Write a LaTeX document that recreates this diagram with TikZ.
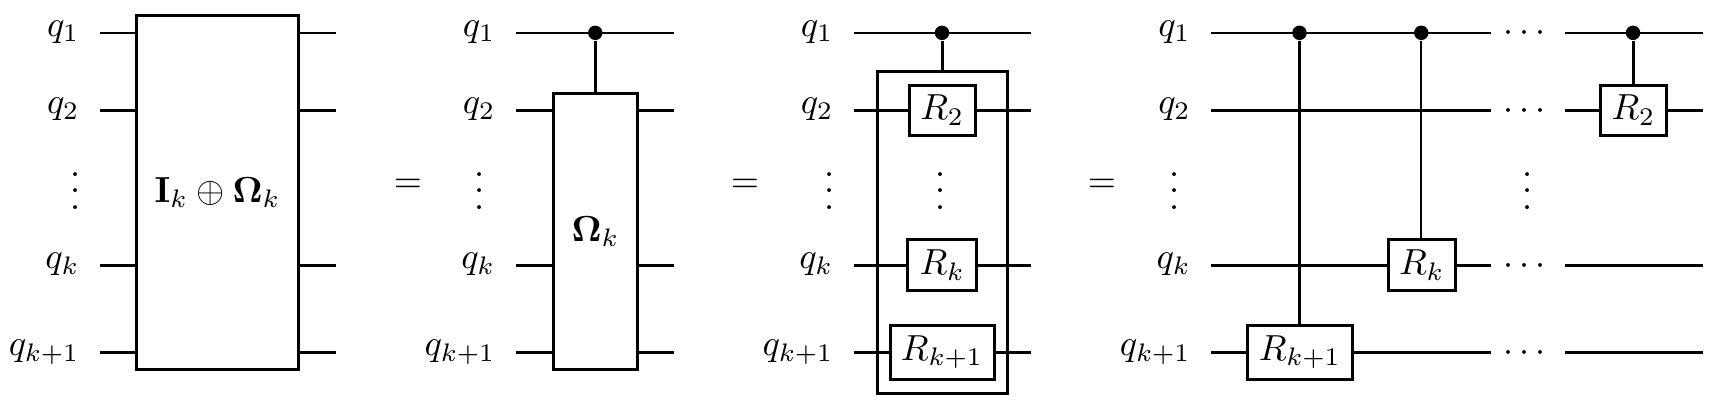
\documentclass[tikz,border=0pt]{standalone}
\usepackage{amsmath,amssymb}

\def\Px{0.276pt}
\newcommand{\rowdots}{$\vcenter{\baselineskip=4.5pt\lineskiplimit=0pt\hbox{.}\hbox{.}\hbox{.}}$}
\tikzset{
	wirelabel/.style={anchor=east,inner ysep=0pt,inner xsep=20*\Px,text height=19*\Px,text depth=12*\Px},
	gatebox/.style={draw,line width=0.83pt,fill=white,inner sep=0pt},
	ctrldot/.style={circle,fill=black,inner sep=0pt,minimum size=14.5*\Px},
	dotsrow/.style={inner sep=0pt,minimum width=72.5*\Px,text height=5pt,text depth=0pt},
	wire/.style={line width=0.83pt},
	thinwire/.style={line width=0.55pt}
}

\begin{document}
\begin{tikzpicture}[x=\Px,y=-\Px]
	\pgfmathsetmacro{\RowA}{32.8}
	\pgfmathsetmacro{\RowB}{110.3}
	\pgfmathsetmacro{\RowK}{265.3}
	\pgfmathsetmacro{\RowM}{352.3}
	\pgfmathsetmacro{\RowDots}{191}
	\useasboundingbox (0,0) rectangle (1716,418);
	% FIRST COLUMN
	\node[wirelabel] (qa1) at (100.2,\RowA) {$q_1$};
	\node[wirelabel] (qb1) at (100.2,\RowB) {$q_2$};
	\node (vd1) at (76,\RowDots) {\rowdots};
	\node[wirelabel] (qk1) at (100.2,\RowK) {$q_k$};
	\node[wirelabel] (qm1) at (100.2,\RowM) {$q_{k+1}$};
	\node[gatebox,minimum width=162.4*\Px,minimum height=353.6*\Px] (boxI) at (217.6,192.5) {$\mathbf{I}_k \oplus \mathbf{\Omega}_k$};
	\coordinate (ea1) at (336.3,\RowA);
	\coordinate (eb1) at (336.3,\RowB);
	\coordinate (ek1) at (336.3,\RowK);
	\coordinate (em1) at (336.3,\RowM);
	\draw[thinwire] (qa1.east) -- (qa1.east -| boxI.west) (ea1 -| boxI.east) -- (ea1);
	\draw[wire] (qb1.east) -- (qb1.east -| boxI.west) (eb1 -| boxI.east) -- (eb1);
	\draw[wire] (qk1.east) -- (qk1.east -| boxI.west) (ek1 -| boxI.east) -- (ek1);
	\draw[wire] (qm1.east) -- (qm1.east -| boxI.west) (em1 -| boxI.east) -- (em1);
	\node (eqA) at (407.9,186) {$=$};
	% SECOND COLUMN
	\node[wirelabel] (qa2) at (516,\RowA) {$q_1$};
	\node[wirelabel] (qb2) at (516,\RowB) {$q_2$};
	\node (vd2) at (479.4,\RowDots) {\rowdots};
	\node[wirelabel] (qk2) at (516,\RowK) {$q_k$};
	\node[wirelabel] (qm2) at (516,\RowM) {$q_{k+1}$};
	\node[ctrldot] (cA) at (595.3,\RowA) {};
	\node[gatebox,minimum width=83.6*\Px,minimum height=276*\Px] (boxO) at (595.5,231.3) {$\mathbf{\Omega}_k$};
	\coordinate (ea2) at (674.4,\RowA);
	\coordinate (eb2) at (674.4,\RowB);
	\coordinate (ek2) at (674.4,\RowK);
	\coordinate (em2) at (674.4,\RowM);
	\draw[thinwire] (qa2.east) -- (ea2);
	\draw[wire] (cA) -- (boxO.north -| cA);
	\draw[wire] (qb2.east) -- (qb2.east -| boxO.west) (eb2 -| boxO.east) -- (eb2);
	\draw[wire] (qk2.east) -- (qk2.east -| boxO.west) (ek2 -| boxO.east) -- (ek2);
	\draw[wire] (qm2.east) -- (qm2.east -| boxO.west) (em2 -| boxO.east) -- (em2);
	\node (eqB) at (745,186) {$=$};
	% THIRD COLUMN
	\node[wirelabel] (qa3) at (854,\RowA) {$q_1$};
	\node[wirelabel] (qb3) at (854,\RowB) {$q_2$};
	\node (vd3) at (830,\RowDots) {\rowdots};
	\node[wirelabel] (qk3) at (854,\RowK) {$q_k$};
	\node[wirelabel] (qm3) at (854,\RowM) {$q_{k+1}$};
	\node[ctrldot] (cB) at (942,\RowA) {};
	\coordinate (ea3) at (1031,\RowA);
	\coordinate (eb3) at (1031,\RowB);
	\coordinate (ek3) at (1031,\RowK);
	\coordinate (em3) at (1031,\RowM);
	\node[gatebox,minimum width=129.5*\Px,minimum height=321.5*\Px] (boxR) at (942.3,232.7) {};
	\draw[thinwire] (qa3.east) -- (ea3);
	\draw[wire] (cB) -- (boxR.north -| cB);
	\draw[wire] (qb3.east) -- (eb3);
	\draw[wire] (qk3.east) -- (ek3);
	\draw[wire] (qm3.east) -- (em3);
	\node[gatebox,minimum width=66*\Px,minimum height=50*\Px] (gb3) at (942.3,\RowB) {$R_2$};
	\node (vd4) at (941,\RowDots) {\rowdots};
	\node[gatebox,minimum width=68.5*\Px,minimum height=51*\Px] (gk3) at (942.2,\RowK) {$R_k$};
	\node[gatebox,minimum width=104*\Px,minimum height=53.5*\Px] (gm3) at (942,\RowM) {$R_{k+1}$};
	\node (eqC) at (1102,186) {$=$};
	% FOURTH COLUMN
	\node[wirelabel] (qa4) at (1211.4,\RowA) {$q_1$};
	\node[wirelabel] (qb4) at (1211.4,\RowB) {$q_2$};
	\node (vd5) at (1174.8,\RowDots) {\rowdots};
	\node[wirelabel] (qk4) at (1211.4,\RowK) {$q_k$};
	\node[wirelabel] (qm4) at (1211.4,\RowM) {$q_{k+1}$};
	\node[dotsrow] (da) at (1527.8,\RowA) {$\cdots$};
	\node[dotsrow] (db) at (1527.8,\RowB) {$\cdots$};
	\node (vd6) at (1527.6,\RowDots) {\rowdots};
	\node[dotsrow] (dk) at (1527.8,\RowK) {$\cdots$};
	\node[dotsrow] (dm) at (1527.8,\RowM) {$\cdots$};
	\coordinate (ea4) at (1703,\RowA);
	\coordinate (eb4) at (1703,\RowB);
	\coordinate (ek4) at (1703,\RowK);
	\coordinate (em4) at (1703,\RowM);
	\draw[thinwire] (qa4.east) -- (da.west) (da.east) -- (ea4);
	\draw[wire] (qb4.east) -- (db.west) (db.east) -- (eb4);
	\draw[wire] (qk4.east) -- (dk.west) (dk.east) -- (ek4);
	\draw[wire] (qm4.east) -- (dm.west) (dm.east) -- (em4);
	\node[ctrldot] (cC) at (1299.5,\RowA) {};
	\node[ctrldot] (cD) at (1421.3,\RowA) {};
	\node[ctrldot] (cE) at (1633,\RowA) {};
	\node[gatebox,minimum width=104.4*\Px,minimum height=53.5*\Px] (gm4) at (1299.8,\RowM) {$R_{k+1}$};
	\node[gatebox,minimum width=67.3*\Px,minimum height=51*\Px] (gk4) at (1421.8,\RowK) {$R_k$};
	\node[gatebox,minimum width=66.1*\Px,minimum height=50*\Px] (gb4) at (1633.4,\RowB) {$R_2$};
	\draw[wire] (cC) -- (gm4.north -| cC);
	\draw[thinwire] (cD) -- (gk4.north -| cD);
	\draw[wire] (cE) -- (gb4.north -| cE);
\end{tikzpicture}
\end{document}
